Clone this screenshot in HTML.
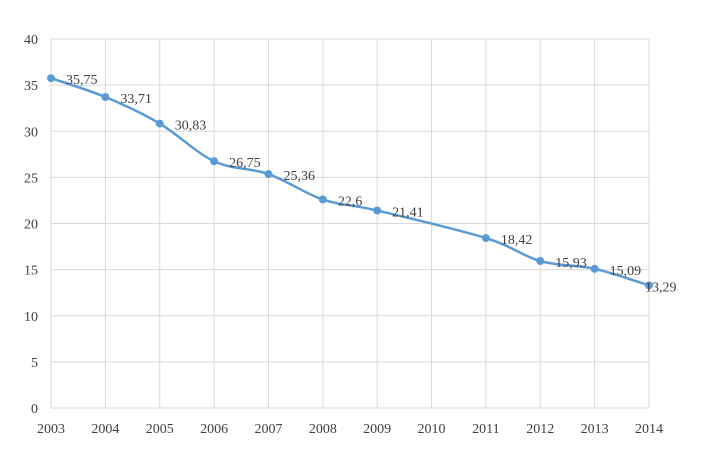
<!DOCTYPE html>
<html><head><meta charset="utf-8"><style>
html,body{margin:0;padding:0;background:#fff;}
svg{display:block;font-family:"Liberation Serif",serif;}
</style></head><body>
<svg id="chart" width="718" height="467" viewBox="0 0 718 467"></svg>
<script>
const categories=["2003","2004","2005","2006","2007","2008","2009","2010","2011","2012","2013","2014"];
const values=[35.75,33.71,30.83,26.75,25.36,22.6,21.41,null,18.42,15.93,15.09,13.29];
const labels=["35,75","33,71","30,83","26,75","25,36","22,6","21,41","","18,42","15,93","15,09","13,29"];
const yTicks=[0,5,10,15,20,25,30,35,40];
const NS="http://www.w3.org/2000/svg";
const svg=document.getElementById('chart');
const x0=51,x1=649,y0=408,y1=39;
const xs=i=>x0+(x1-x0)*i/(categories.length-1);
const ys=v=>y0-(y0-y1)*v/40;
function mk(t,a,p){const e=document.createElementNS(NS,t);for(const k in a)e.setAttribute(k,a[k]);(p||svg).appendChild(e);return e;}
const grid=mk('g',{});


yTicks.forEach(v=>{
  mk('line',{x1:x0,x2:x1,y1:ys(v),y2:ys(v),stroke:'#d9d9d9','stroke-width':1},grid);
  const t=mk('text',{x:x0-13,y:ys(v)+5,'text-anchor':'end','font-size':14,fill:'#404040'});
  
  
  t.textContent=v;
});
categories.forEach((c,i)=>{
  mk('line',{x1:xs(i),x2:xs(i),y1:y1,y2:y0,stroke:'#d9d9d9','stroke-width':1},grid);
  const t=mk('text',{x:xs(i),y:y0+25,'text-anchor':'middle','font-size':14,fill:'#404040'});
  
  
  t.textContent=c;
});
const pts=[];values.forEach((v,i)=>{if(v!==null)pts.push([xs(i),ys(v)]);});
let d=`M${pts[0][0]},${pts[0][1]}`;
for(let i=0;i<pts.length-1;i++){
  const p0=pts[Math.max(0,i-1)],p1=pts[i],p2=pts[i+1],p3=pts[Math.min(pts.length-1,i+2)];
  const k=6;
  d+=` C${p1[0]+(p2[0]-p0[0])/k},${p1[1]+(p2[1]-p0[1])/k} ${p2[0]-(p3[0]-p1[0])/k},${p2[1]-(p3[1]-p1[1])/k} ${p2[0]},${p2[1]}`;
}
const line=mk('path',{d:d,fill:'none',stroke:'#5b9bd5','stroke-width':2.5,'stroke-linecap':'round'});


values.forEach((v,i)=>{
  if(v===null)return;
  const c=mk('circle',{cx:xs(i),cy:ys(v),r:4,fill:'#5b9bd5'});
  
  
  const t=mk('text',{x:Math.min(xs(i)+15,645),y:ys(v)+6,'font-size':14,fill:'#404040'});
  
  
  t.textContent=labels[i];
});
</script>
</body></html>
